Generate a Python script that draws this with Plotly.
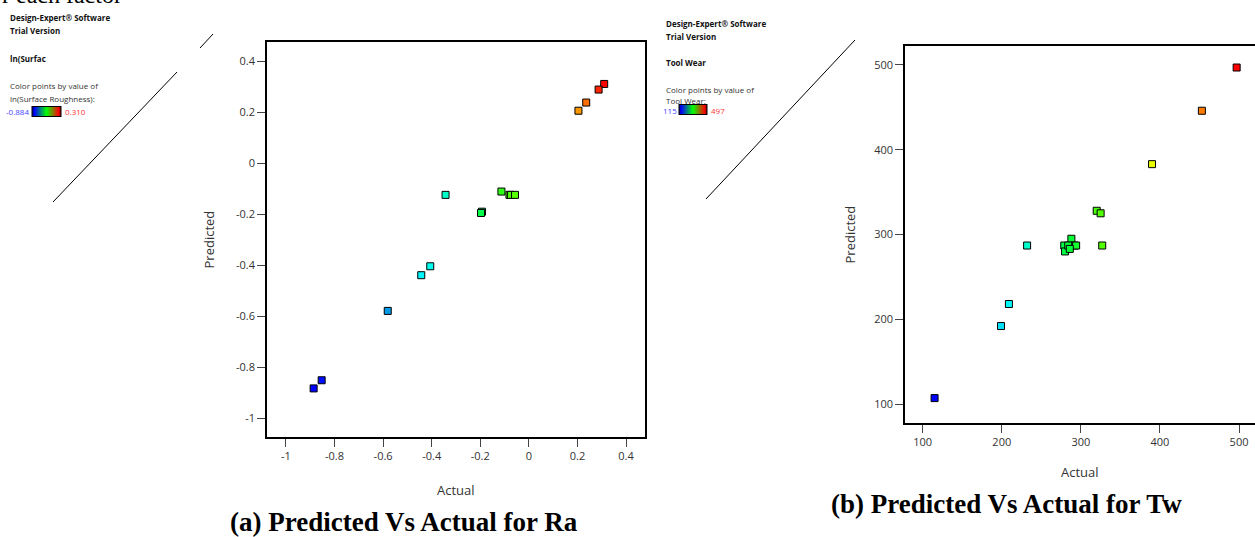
import numpy as np
import plotly.graph_objects as go

W, H = 1255, 537

# ---------------- data ----------------
# (a) ln(Surface Roughness): actual vs predicted
ra_actual = [0.310, 0.287, 0.236, 0.204, -0.343, -0.193, -0.197, -0.113, -0.080, -0.074,
             -0.057, -0.406, -0.443, -0.581, -0.853, -0.886]
ra_pred = [0.310, 0.288, 0.237, 0.205, -0.125, -0.191, -0.196, -0.112, -0.125, -0.125,
           -0.125, -0.405, -0.440, -0.580, -0.852, -0.884]
ra_min, ra_max = -0.884, 0.310

# (b) Tool Wear: actual vs predicted
tw_actual = [497, 453, 390, 320, 325, 232, 279, 280, 288, 292, 294, 284, 286, 327, 209, 199, 115]
tw_pred = [497, 446, 383, 328, 325, 287, 287, 280, 295, 287, 287, 287, 283, 287, 218, 192, 107]
tw_min, tw_max = 115, 497

ra_xticks = [-1, -0.8, -0.6, -0.4, -0.2, 0, 0.2, 0.4]
ra_yticks = [-1, -0.8, -0.6, -0.4, -0.2, 0, 0.2, 0.4]
ra_ticklabels = ["-1", "-0.8", "-0.6", "-0.4", "-0.2", "0", "0.2", "0.4"]
tw_ticks = [100, 200, 300, 400, 500]

point_scale = [[0.0, '#0000ff'], [0.15, '#0096e6'], [0.25, '#00ffff'], [0.31, '#00ffc8'],
               [0.44, '#00ff3c'], [0.55, '#50ff00'], [0.72, '#e6ff00'], [0.87, '#ff8c00'],
               [1.0, '#ff0000']]
legend_scale = [[0.0, '#000070'], [0.08, '#0000ff'], [0.5, '#00ff00'], [0.92, '#ff0000'],
                [1.0, '#700000']]

FONT = "Open Sans"
TXT = "#333333"


def px(x):
    return x / W


def py(y):
    return 1 - y / H


fig = go.Figure()

# main scatter (a)
fig.add_trace(go.Scatter(
    x=ra_actual, y=ra_pred, mode='markers', xaxis='x', yaxis='y', showlegend=False,
    marker=dict(symbol='square', size=7, color=np.exp(ra_actual),
                cmin=np.exp(ra_min), cmax=np.exp(ra_max), colorscale=point_scale,
                line=dict(color='black', width=1))))
# main scatter (b)
fig.add_trace(go.Scatter(
    x=tw_actual, y=tw_pred, mode='markers', xaxis='x2', yaxis='y2', showlegend=False,
    marker=dict(symbol='square', size=7, color=tw_actual,
                cmin=tw_min, cmax=tw_max, colorscale=point_scale,
                line=dict(color='black', width=1))))

# small legend gradient bars
for (bx, by, blen) in [(31.7, 111.7, 29), (679.3, 109.5, 28)]:
    fig.add_trace(go.Scatter(
        x=[None], y=[None], mode='markers', showlegend=False, hoverinfo='skip',
        marker=dict(color=[0, 1], cmin=0, cmax=1, colorscale=legend_scale, showscale=True,
                    colorbar=dict(orientation='h', x=px(bx), xanchor='left', y=py(by),
                                  yanchor='middle', len=blen, lenmode='pixels',
                                  thickness=10, thicknessmode='pixels', xpad=0, ypad=0,
                                  outlinewidth=1, outlinecolor='black', borderwidth=0,
                                  showticklabels=False, ticks=''))))

axis_common = dict(showline=True, linecolor='black', linewidth=1.5, ticks='outside',
                   ticklen=8, tickcolor='#444444', tickwidth=1, showgrid=False,
                   zeroline=False, tickfont=dict(family=FONT, size=11, color=TXT))

fig.update_layout(
    width=W, height=H, margin=dict(l=0, r=0, t=0, b=0),
    paper_bgcolor='white', plot_bgcolor='white',
    xaxis=dict(domain=[px(267), px(645)], range=[-1.078, 0.478], tickvals=ra_xticks,
               ticktext=ra_ticklabels, mirror=True, anchor='y', **axis_common),
    yaxis=dict(domain=[py(437), py(42)], range=[-1.0745, 0.4745], tickvals=ra_yticks,
               ticktext=ra_ticklabels, mirror=True, anchor='x', **axis_common),
    xaxis2=dict(domain=[px(905), 1.0], range=[77.6, 520.2], tickvals=tw_ticks,
                mirror=True, anchor='y2', **axis_common),
    yaxis2=dict(domain=[py(423), py(46)], range=[77.6, 522.4], tickvals=tw_ticks,
                mirror=False, anchor='x2', **axis_common),
)

shapes = []
for (x0, y0, x1, y1) in [(53, 202, 177, 72), (200, 48, 213, 34), (706, 199, 855, 40)]:
    shapes.append(dict(type='line', xref='paper', yref='paper', x0=px(x0), y0=py(y0),
                       x1=px(x1), y1=py(y1), line=dict(color='black', width=1)))
fig.update_layout(shapes=shapes)

ann = []


def text(x, y, s, size=8, bold=False, color=TXT, xanchor='left', family=FONT, angle=0,
         yanchor='middle'):
    ann.append(dict(xref='paper', yref='paper', x=px(x), y=py(y), text=(f"<b>{s}</b>" if bold else s),
                    showarrow=False, xanchor=xanchor, yanchor=yanchor, textangle=angle,
                    font=dict(family=family, size=size, color=color)))


# top clipped document text (cut off by the page edge in the original)
text(0, 10, "r each factor", size=24, color='black', family='Liberation Serif', yanchor='bottom')

# side panel (a)
text(8.3, 17.7, "Design-Expert® Software", bold=True, color='#111111')
text(8.3, 31, "Trial Version", bold=True, color='#111111')
text(8.3, 58, "ln(Surfac", bold=True, color='#111111')
text(8.3, 85, "Color points by value of")
text(8.3, 99, "ln(Surface Roughness):")
text(31.2, 111.7, f"{ra_min:.3f}", color='#4444ff', xanchor='right')
text(62.8, 111.7, f"{ra_max:.3f}", color='#ff3333')

# side panel (b)
text(664, 23.4, "Design-Expert® Software", bold=True, color='#111111')
text(664, 36.7, "Trial Version", bold=True, color='#111111')
text(664, 62.7, "Tool Wear", bold=True, color='#111111')
text(664, 89, "Color points by value of")
text(664, 100.5, "Tool Wear:")
text(678.8, 110, f"{tw_min}", color='#4444ff', xanchor='right')
text(708.8, 110, f"{tw_max}", color='#ff3333')

# axis titles
text(456, 490, "Actual", size=13, xanchor='center')
text(208, 239.5, "Predicted", size=13, xanchor='center', angle=-90)
text(1080, 472, "Actual", size=13, xanchor='center')
text(850, 234.5, "Predicted", size=13, xanchor='center', angle=-90)

# captions
text(228, 522, "(a) Predicted Vs Actual for Ra", size=27, bold=True, color='black',
     family='Liberation Serif')
text(829, 504, "(b) Predicted Vs Actual for Tw", size=27, bold=True, color='black',
     family='Liberation Serif')

fig.update_layout(annotations=ann)

fig.write_html("out.html", config={'displayModeBar': False},
               post_script="document.body.style.margin='0';")
